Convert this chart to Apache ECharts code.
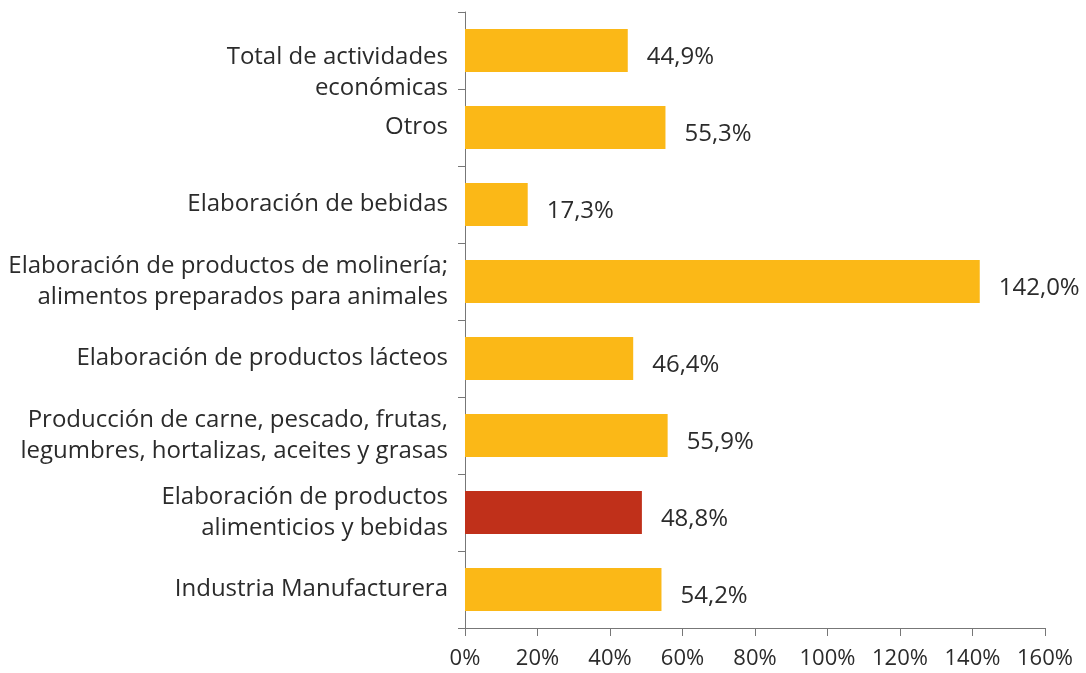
<!DOCTYPE html>
<html><head><meta charset="utf-8">
<script src="https://cdn.jsdelivr.net/npm/echarts@6/dist/echarts.min.js"></script>
<style>html,body{margin:0;padding:0;background:#fff}#c{width:1086px;height:673px}</style>
</head><body><div id="c"></div>
<script>
const categories = [
  "Industria Manufacturera",
  "Elaboración de productos\nalimenticios y bebidas",
  "Producción de carne, pescado, frutas,\nlegumbres, hortalizas, aceites y grasas",
  "Elaboración de productos lácteos",
  "Elaboración de productos de molinería;\nalimentos preparados para animales",
  "Elaboración de bebidas",
  "Otros",
  "Total de actividades\neconómicas"
];
const values = [54.2, 48.8, 55.9, 46.4, 142.0, 17.3, 55.3, 44.9];
const highlightIndex = 1;
const xTicks = [0, 20, 40, 60, 80, 100, 120, 140, 160];

const FONT = "Open Sans";
const chart = echarts.init(document.getElementById('c'));
chart.setOption({
  animation: false,
  grid: {left: 465, right: 41, top: 12, bottom: 45, containLabel: false, outerBoundsMode: 'none'},
  xAxis: {
    type: 'value', min: xTicks[0], max: xTicks[xTicks.length-1], interval: 20,
    splitLine: {show: false},
    axisLine: {show: true, lineStyle: {color: '#777', width: 1}},
    axisTick: {show: true, length: 8, lineStyle: {color: '#777'}},
    axisLabel: {formatter: '{value}%', fontFamily: FONT, fontSize: 22, color: '#2b2b2b', margin: 20}
  },
  yAxis: {
    type: 'category',
    data: categories,
    axisLine: {show: true, lineStyle: {color: '#777', width: 1}},
    axisTick: {show: true, length: 7, lineStyle: {color: '#777'}},
    axisLabel: {
      fontFamily: FONT, fontSize: 24, color: '#2b2b2b', margin: 17, lineHeight: 31, align: 'right',
      formatter: (v, i) => {
        const lines = v.split('\n').map(s => '{a|' + s + '}');
        if (i === categories.length - 1) lines.unshift('{gap| }');
        return lines.join('\n');
      },
      rich: {
        a: {fontFamily: FONT, fontSize: 24, color: '#2b2b2b', lineHeight: 31, align: 'right'},
        gap: {fontSize: 10, lineHeight: 44, align: 'right'}
      }
    }
  },
  series: [{
    type: 'bar',
    barWidth: '56%',
    data: values.map((v, i) => ({value: v, itemStyle: {color: i === highlightIndex ? '#C0301A' : '#FBB817'}})),
    label: {
      show: true, position: 'right', distance: 19, offset: [0, 7],
      fontFamily: FONT, fontSize: 24, color: '#2b2b2b',
      formatter: p => p.value.toFixed(1).replace('.', ',') + '%'
    }
  }]
});
</script></body></html>
